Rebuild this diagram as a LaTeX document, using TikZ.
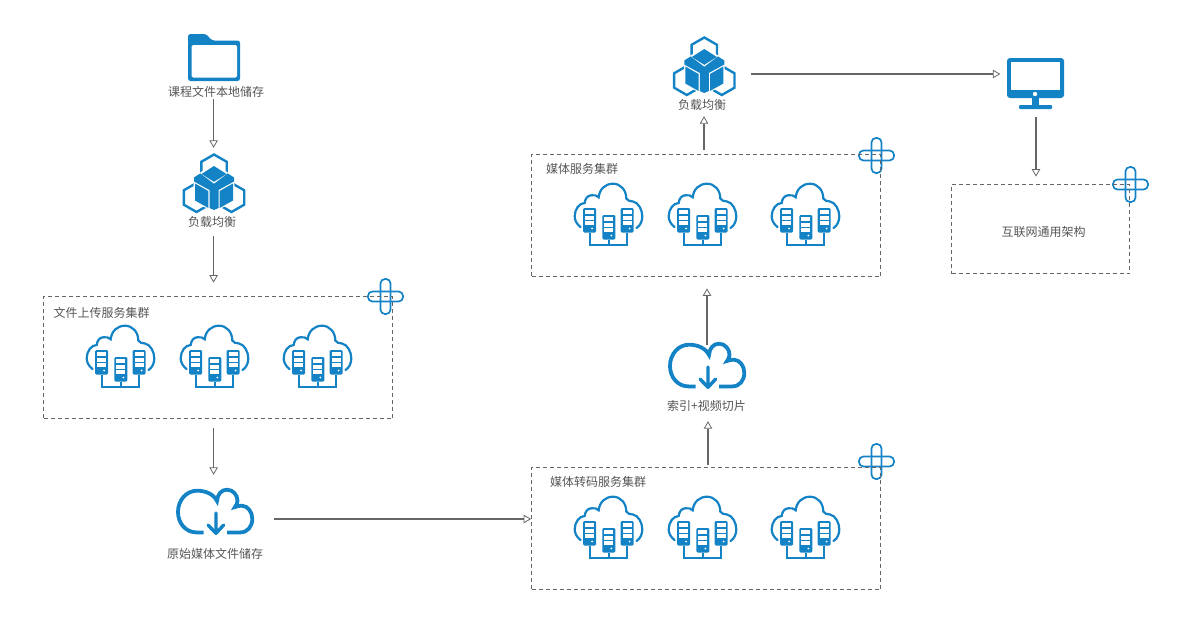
\documentclass[tikz,border=0pt]{standalone}
\usepackage{fontspec}
\setmainfont{Noto Sans CJK SC}
\usetikzlibrary{arrows.meta,calc}
\definecolor{iconblue}{HTML}{1383C5}
\definecolor{linegray}{HTML}{666666}
\definecolor{txtgray}{HTML}{555555}
\tikzset{
  flow/.style={draw=linegray,line width=1.3pt,-{Triangle[open,length=7.5pt,width=8.5pt,line width=0.8pt]}},
  lbl/.style={text=txtgray,font=\fontsize{12}{14}\selectfont,inner sep=0pt,minimum height=14pt},
  groupbox/.style={draw=linegray,line width=0.8pt,dash pattern=on 4pt off 3pt,inner sep=0pt,rectangle},
  anchorbox/.style={inner sep=0pt,rectangle},
  srvcloud/.pic={
    \draw[iconblue,line width=2.2pt,line cap=round]
      (-28,14) .. controls (-32,11) and (-33.8,7) .. (-33.8,3.3)
      .. controls (-33.8,-4) and (-29,-10) .. (-23.8,-10)
      .. controls (-23.5,-14) and (-21,-17.7) .. (-17.2,-17.7)
      .. controls (-14,-18.3) and (-11.5,-17.5) .. (-9.8,-15.7)
      .. controls (-9,-24) and (-3,-29.3) .. (4.5,-29.3)
      .. controls (12,-29.3) and (17.8,-23) .. (17.8,-14.5)
      .. controls (19,-12.5) and (21.5,-11.5) .. (24.5,-11.5)
      .. controls (30,-10.5) and (33.8,-3) .. (33.8,3.3)
      .. controls (33.8,8) and (32,12.5) .. (28,15);
    \draw[iconblue,line width=2pt]
      (-18.8,18) -- (-18.8,31.7) -- (18.6,31.7) -- (18.6,18)
      (0.3,27) -- (0.3,31.7);
    \foreach \cx/\cy in {-18.9/-5,0.3/2,18.6/-5}{
      \fill[white] (\cx-7.5,\cy-1) rectangle (\cx+7.5,\cy+25);
      \fill[iconblue,rounded corners=1.2pt] (\cx-6.5,\cy) rectangle (\cx+6.5,\cy+24.5);
      \foreach \by in {2.2,7.8,13.4}{
        \fill[white] (\cx-4.5,\cy+\by) rectangle (\cx+4.5,\cy+\by+3.7);
      }
      \fill[white] (\cx+2.6,\cy+20.5) circle (1pt);
    }
  },
  dlcloud/.pic={
    \draw[iconblue,line width=3.8pt,line cap=butt]
      (-10.8,20.4) -- (-18,20.4)
      .. controls (-29,20.4) and (-36.5,11) .. (-36.5,0)
      .. controls (-36.5,-12) and (-28,-21.3) .. (-17.5,-21.3)
      .. controls (-9,-21.3) and (-1,-18) .. (2.5,-11)
      .. controls (3,-18) and (7,-22.3) .. (12.5,-22.3)
      .. controls (18.5,-22.3) and (23,-17) .. (23,-11.3)
      .. controls (23,-9) and (22,-7) .. (20.5,-5)
      .. controls (23,-6) and (25,-6.3) .. (27.5,-6.3)
      .. controls (33.5,-6) and (37.8,0) .. (37.8,7)
      .. controls (37.8,14.5) and (33,20.4) .. (25.8,20.4)
      -- (12.5,20.4);
    \draw[iconblue,line width=3.4pt,line cap=round,line join=round]
      (1.5,1) -- (1.5,21) (-6.5,13) -- (1.5,21.3) -- (9.2,13);
  },
  plusicon/.pic={
    \foreach \ang in {0,90,180,270}{
      \draw[iconblue,line width=1.7pt,rotate=\ang,rounded corners=4.4pt,line cap=butt]
        (-5,-4.6) -- (-5,-17.5) -- (5,-17.5) -- (5,5.4);
    }
  },
  balancer/.pic={
    \foreach \hx/\hy in {0.5/-14,-17/14.5,18/14.5}{
      \draw[iconblue,line width=2.4pt,fill=white,shift={(\hx,\hy)}]
        (0,-14.5) -- (12.7,-7.2) -- (12.7,7.2) -- (0,14.5) -- (-12.7,7.2) -- (-12.7,-7.2) -- cycle;
    }
    \fill[white] (-19.8,-6) -- (-13.4,-10.5) -- (0.5,-18.5) -- (14.4,-10.5) -- (20.8,-6) -- (20.8,18.2) -- (5.5,26.5) -- (0.5,28) -- (-4.5,26.5) -- (-19.8,18.2) -- cycle;
    \fill[iconblue] (-12,-9) -- (0.5,-17) -- (13,-9) -- (0.5,-1.2) -- cycle;
    \fill[iconblue] (-19.5,-5.5) -- (-13.2,-9.6) -- (0.5,0.8) -- (14.2,-9.6) -- (20.5,-5.5) -- (20.5,-1.5) -- (5,7) -- (5,25) -- (0.5,27) -- (-4,25) -- (-4,7) -- (-19.5,-1.5) -- cycle;
    \fill[iconblue] (-18.5,0.5) -- (-5.2,8) -- (-5.2,25) -- (-18.5,17.5) -- cycle;
    \fill[iconblue] (19.5,0.5) -- (6.2,8) -- (6.2,25) -- (19.5,17.5) -- cycle;
  },
  folder/.pic={
    \fill[iconblue,rounded corners=2.5pt]
      (-26,-23.5) -- (-8,-23.5) -- (-2,-17) -- (26,-17) -- (26,23.5) -- (-26,23.5) -- cycle;
    \fill[white,rounded corners=1.5pt] (-22.5,-12.5) rectangle (23,20);
  },
  monitor/.pic={
    \fill[iconblue,rounded corners=3pt] (-28,-25) rectangle (29,15);
    \fill[white] (-24,-21) rectangle (25,7);
    \fill[white] (0,11) circle (2.2pt);
    \fill[iconblue] (-3.5,15) rectangle (4,22.5);
    \fill[iconblue,rounded corners=1pt] (-16,22) rectangle (17,26);
  }
}
\begin{document}
\begin{tikzpicture}[x=1pt,y=-1pt]
\useasboundingbox (0,0) rectangle (1179,624);
% column guides for connector positions
\coordinate (colA) at (213.6,0);
\coordinate (colB) at (708,0);
\coordinate (colC) at (707,0);
\coordinate (colD) at (704,0);
\coordinate (colE) at (1036,0);
% plus icons (under the dashed boxes)
\pic at (385.5,296.5) {plusicon};
\pic at (876.5,155.5) {plusicon};
\pic at (1130.5,184.5) {plusicon};
\pic at (876.5,461.5) {plusicon};
% dashed group boxes
\node[groupbox,minimum width=349pt,minimum height=122.5pt] (box1) at (218,357.25) {};
\node[groupbox,minimum width=349pt,minimum height=122.5pt] (box2) at (706,215.25) {};
\node[groupbox,minimum width=349pt,minimum height=122.5pt] (box3) at (706,528.25) {};
\node[groupbox,minimum width=178pt,minimum height=89.5pt] (box4) at (1040.5,228.75) {};
% titles
\node[lbl,anchor=west] (title1) at (53.5,313) {文件上传服务集群};
\node[lbl,anchor=west] (title2) at (546,169) {媒体服务集群};
\node[lbl,anchor=west] (title3) at (550,482) {媒体转码服务集群};
\node[lbl] (title4) at (1043.5,232) {互联网通用架构};
% server clouds
\foreach \px in {120.5,214.5,317.5}{\pic at (\px,355) {srvcloud};}
\foreach \px in {608.5,702.5,805.5}{\pic at (\px,213) {srvcloud};}
\foreach \px in {608.5,702.5,805.5}{\pic at (\px,526) {srvcloud};}
% single icons and their labels
\pic at (214,57.5) {folder};
\node[lbl] (t1) at (216,92) {课程文件本地储存};
\pic at (213.5,183) {balancer};
\node[anchorbox,minimum width=62pt,minimum height=58pt] (lb1) at (213.5,183) {};
\node[lbl] (t2) at (212,222) {负载均衡};
\pic at (214.5,512) {dlcloud};
\node[anchorbox,minimum width=78pt,minimum height=60pt] (c1) at (214.5,519) {};
\node[lbl] (t3) at (215,554) {原始媒体文件储存};
\pic at (706.5,366) {dlcloud};
\node[anchorbox,minimum width=78pt,minimum height=46pt] (c2) at (707,366) {};
\node[lbl] (t4) at (706.5,406) {索引+视频切片};
\pic at (703.8,66) {balancer};
\node[anchorbox,minimum width=62pt,minimum height=58pt] (lb2) at (704,74) {};
\node[lbl] (t5) at (702,105) {负载均衡};
\pic at (1035,83) {monitor};
\node[anchorbox,minimum width=58pt,minimum height=52pt] (mon) at (1035.5,74) {};
% connectors
\draw[flow,shorten >=6pt] (t1.south -| colA) -- (lb1.north -| colA);
\draw[flow,shorten <=7pt,shorten >=13pt] (t2.south -| colA) -- (box1.north -| colA);
\draw[flow,shorten <=9.5pt,shorten >=14pt] (box1.south -| colA) -- (c1.north -| colA);
\draw[flow,shorten <=20pt] (c1.east) -- (c1.east -| box3.west);
\draw[flow,shorten <=2pt,shorten >=8pt] (box3.north -| colB) -- (t4.south -| colB);
\draw[flow,shorten <=-2pt,shorten >=11.5pt] (c2.north -| colC) -- (box2.south -| colC);
\draw[flow,shorten <=4pt,shorten >=4pt] (box2.north -| colD) -- (t5.south -| colD);
\draw[flow,shorten <=16pt,shorten >=6pt] (lb2.east) -- (mon.west);
\draw[flow,shorten <=17pt,shorten >=7pt] (mon.south -| colE) -- (box4.north -| colE);
\end{tikzpicture}
\end{document}
